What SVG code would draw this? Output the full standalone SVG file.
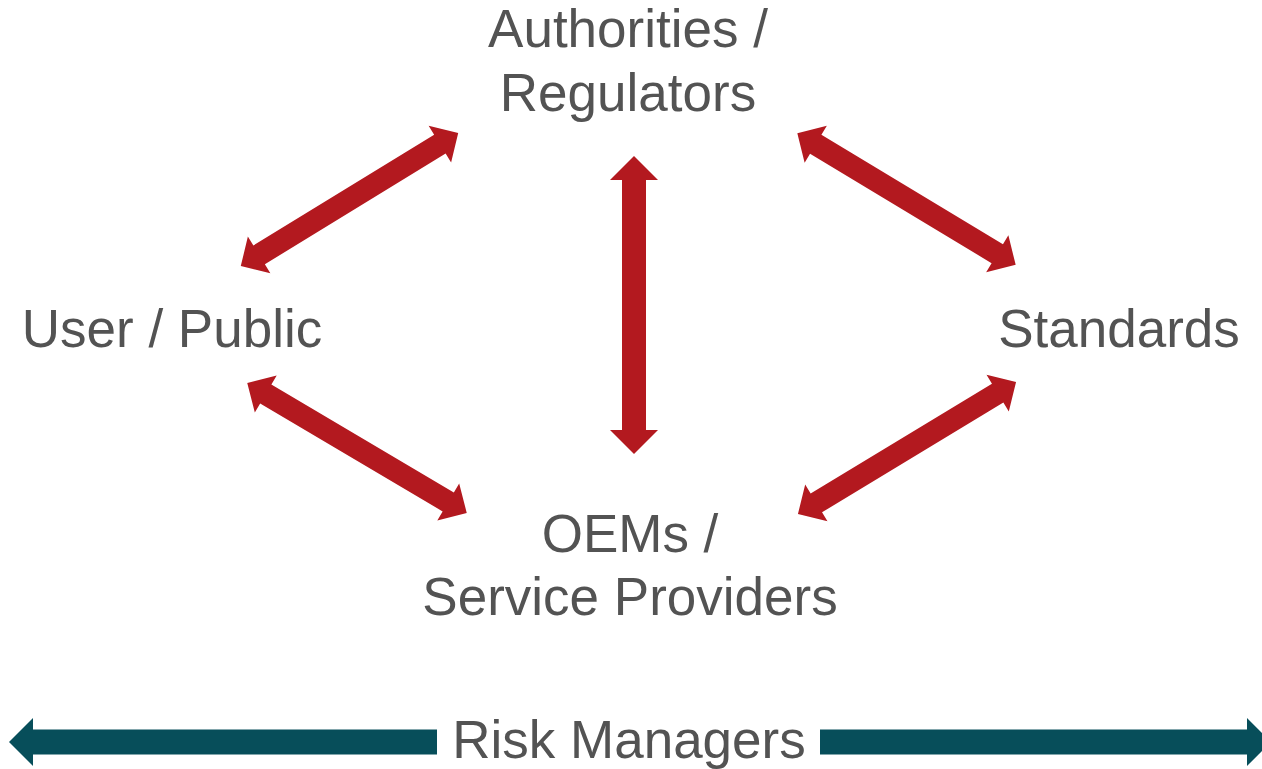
<svg xmlns="http://www.w3.org/2000/svg" width="1262" height="769" viewBox="0 0 1262 769">
<style>
.lbl{font-family:"Liberation Sans",Arial,sans-serif;font-size:53px;fill:#535353;text-anchor:middle}
.red{fill:#B3191F}
.teal{fill:#074E5A}
</style>
<defs>
<polygon id="darr" points="-127.5,0 -106,-21.5 -106,-11 106,-11 106,-21.5 127.5,0 106,21.5 106,11 -106,11 -106,21.5"/>
</defs>
<rect width="1262" height="769" fill="#ffffff"/>
<g id="connectors">
<use href="#darr" class="red" transform="translate(349.5,199.5) rotate(-31.5)"/>
<use href="#darr" class="red" transform="translate(906.5,199) rotate(31.1)"/>
<use href="#darr" class="red" transform="translate(907,448) rotate(-31.2)"/>
<use href="#darr" class="red" transform="translate(357,448) rotate(30.6)"/>
<polygon class="red" points="634,156 658,180 646,180 646,430 658,430 634,454 610,430 622,430 622,180 610,180"/>
<polygon class="teal" points="9,742 33,718 33,729.5 437,729.5 437,754.5 33,754.5 33,766"/>
<polygon class="teal" points="820,729.5 1247,729.5 1247,718 1271,742 1247,766 1247,754.5 820,754.5"/>
</g>
<g id="authorities">
<text class="lbl" x="628" y="47">Authorities /</text>
<text class="lbl" x="628" y="111">Regulators</text>
</g>
<g id="user-public">
<text class="lbl" x="172" y="347">User / Public</text>
</g>
<g id="standards">
<text class="lbl" x="1119" y="347">Standards</text>
</g>
<g id="oems">
<text class="lbl" x="630" y="552">OEMs /</text>
<text class="lbl" x="630" y="615">Service Providers</text>
</g>
<g id="risk-managers">
<text class="lbl" x="629" y="758">Risk Managers</text>
</g>
</svg>
